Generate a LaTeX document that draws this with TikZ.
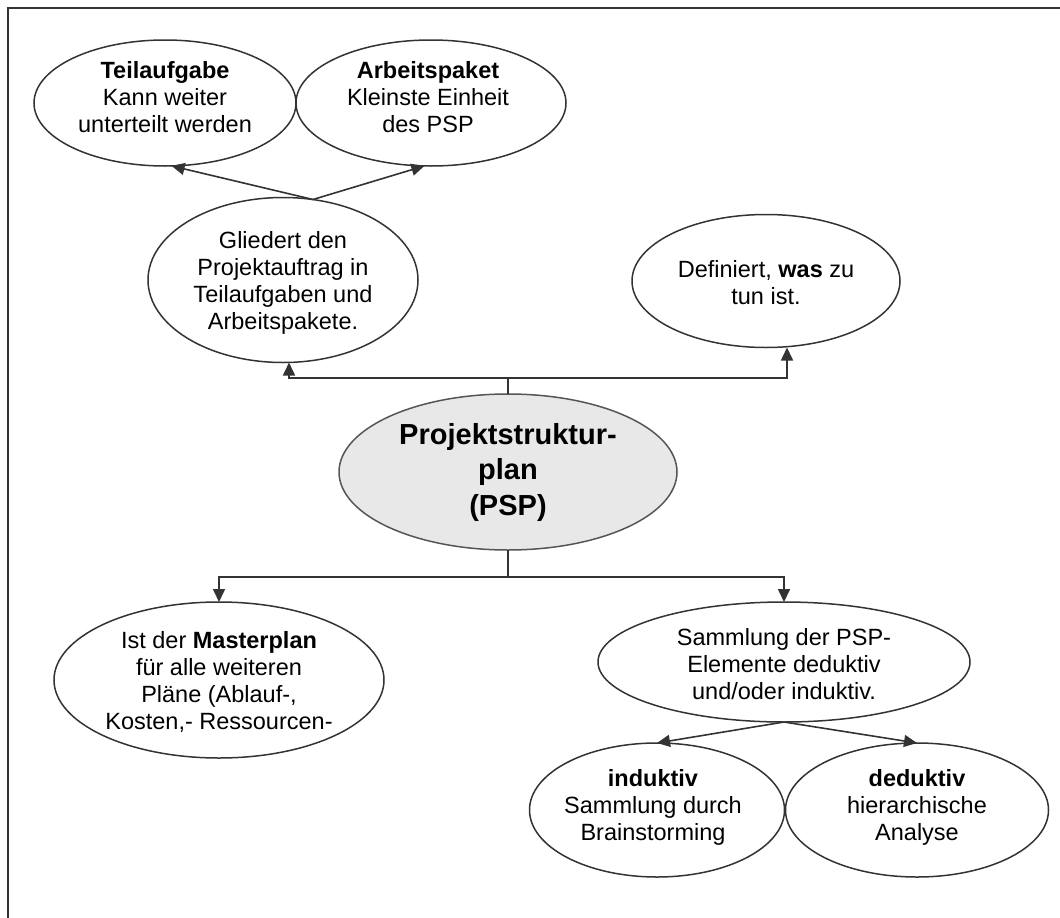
\documentclass[tikz,border=0pt]{standalone}
\usepackage{fontspec}
\setmainfont{Liberation Sans}
\usetikzlibrary{shapes.geometric,arrows.meta,calc}
\definecolor{inkline}{HTML}{333333}
\definecolor{corefill}{HTML}{E8E8E8}
\definecolor{coreline}{HTML}{555555}
\begin{document}
\begin{tikzpicture}[x=1pt,y=-1pt,
  frame/.style={draw=inkline, line width=2.5pt},
  oval/.style={ellipse, draw=inkline, fill=white, line width=1.5pt, inner sep=0pt, outer sep=0pt},
  core/.style={oval, draw=coreline, fill=corefill},
  txt/.style={inner sep=0pt, align=center, font=\fontsize{23.5}{27}\selectfont},
  coretxt/.style={inner sep=0pt, align=center, font=\fontsize{29}{35.5}\selectfont\bfseries},
  link/.style={draw=inkline, line width=1.6pt},
  arr/.style={link, -{Triangle[length=13pt,width=12pt]}}]
\useasboundingbox (0,0) rectangle (1060,918);

% page frame (top and left edges)
\draw[frame] (8,918) -- (8,8) -- (1060,8);

% ellipses
\node[oval, minimum width=262, minimum height=126] (t)   at (165,103) {};
\node[oval, minimum width=270, minimum height=126] (a)   at (431,103) {};
\node[oval, minimum width=270, minimum height=165] (g)   at (283,280) {};
\node[oval, minimum width=268, minimum height=133] (d)   at (766,281) {};
\node[core, minimum width=338, minimum height=156] (psp) at (508,472) {};
\node[oval, minimum width=330, minimum height=156] (m)   at (219,680) {};
\node[oval, minimum width=372, minimum height=120] (s)   at (784,662) {};
\node[oval, minimum width=255, minimum height=134] (i)   at (657,810) {};
\node[oval, minimum width=263, minimum height=134] (dd)  at (917,810) {};

% texts
\node[txt] (t-txt) at ($(t.center)+(0,-6)$) {\textbf{Teilaufgabe}\\Kann weiter\\unterteilt werden};
\node[txt] (a-txt) at ($(a.center)+(-3,-6)$) {\textbf{Arbeitspaket}\\Kleinste Einheit\\des PSP};
\node[txt] (g-txt) at ($(g.center)+(0,3)$) {Gliedert den\\Projektauftrag in\\Teilaufgaben und\\Arbeitspakete.};
\node[txt] (d-txt) at ($(d.center)+(0,2)$) {Definiert, \textbf{was} zu\\tun ist.};
\node[coretxt] (psp-txt) at (psp.center) {Projektstruktur-\\plan\\(PSP)};
\node[txt] (m-txt) at ($(m.center)+(0,2)$) {Ist der \textbf{Masterplan}\\f\"ur alle weiteren\\Pl\"ane (Ablauf-,\\Kosten,- Ressourcen-};
\node[txt] (s-txt) at ($(s.center)+(0,2)$) {Sammlung der PSP-\\Elemente deduktiv\\und/oder induktiv.};
\node[txt] (i-txt) at ($(i.center)+(-4,-3)$) {\textbf{induktiv}\\Sammlung durch\\Brainstorming};
\node[txt] (dd-txt) at ($(dd.center)+(0,-3)$) {\textbf{deduktiv}\\hierarchische\\Analyse};

% connectors
\coordinate (gtop) at ($(g.north)+(30,2)$);
\draw[arr] (gtop) -- (t.-84);
\draw[arr] (gtop) -- (a.-96);

\coordinate (hubup) at ($(psp.north)+(0,-16)$);
\draw[link] (psp.north) -- (hubup);
\draw[arr] (hubup) -| ($(g.south)+(6,0)$);
\draw[arr] (hubup) -| ($(d.south)+(21,0)$);

\coordinate (hubdn) at ($(psp.south)+(0,27)$);
\draw[link] (psp.south) -- (hubdn);
\draw[arr] (hubdn) -| (m.north);
\draw[arr] (hubdn) -| (s.north);

\draw[arr] (s.south) -- (i.north);
\draw[arr] (s.south) -- (dd.north);
\end{tikzpicture}
\end{document}
